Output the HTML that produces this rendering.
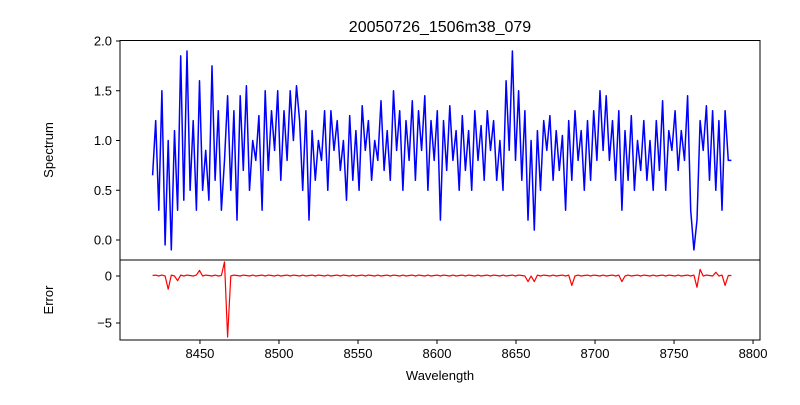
<!DOCTYPE html>
<html><head><meta charset="utf-8"><style>
body{margin:0;background:#fff;font-family:"Liberation Sans",sans-serif}
svg text{font-family:"Liberation Sans",sans-serif;fill:#000}
</style></head><body>
<svg id="c" width="800" height="400" xmlns="http://www.w3.org/2000/svg">
<rect width="800" height="400" fill="#fff"/>
<text x="440" y="32" font-size="16" text-anchor="middle">20050726_1506m38_079</text>
<text x="0" y="0" font-size="13" text-anchor="middle" transform="translate(53,150) rotate(-90)">Spectrum</text>
<text x="0" y="0" font-size="13" text-anchor="middle" transform="translate(53,300) rotate(-90)">Error</text>
<text x="440" y="380" font-size="13" text-anchor="middle">Wavelength</text>
<g id="g"></g>
</svg>
<script>
const spectrum = [0.65,1.2,0.3,1.5,-0.05,1.0,-0.1,1.1,0.3,1.85,
0.4,1.9,0.5,1.2,0.3,1.6,0.5,0.9,0.4,1.75,
0.6,1.3,0.3,0.8,1.45,0.5,1.3,0.2,1.45,0.7,
1.55,0.5,1.0,0.8,1.25,0.3,1.5,0.7,1.3,0.9,
1.5,0.6,1.3,0.8,1.5,1.0,1.55,1.2,0.5,1.3,
0.2,1.1,0.6,1.0,0.8,1.3,0.5,1.3,0.9,1.2,
0.7,1.0,0.4,1.25,0.6,1.1,0.5,1.35,0.9,1.2,
0.6,1.0,0.8,1.4,0.7,1.1,0.6,1.5,0.9,1.3,
0.5,1.2,0.8,1.4,0.6,1.3,0.9,1.45,0.5,1.2,
0.8,1.3,0.2,1.2,0.7,1.35,0.8,1.1,0.5,1.25,
0.7,1.1,0.5,1.3,0.8,1.15,0.6,1.3,0.9,1.2,
0.6,1.0,0.5,1.6,0.9,1.9,0.8,1.5,0.6,1.3,
0.2,1.0,0.1,1.1,0.5,1.2,0.9,1.25,0.6,1.1,
0.7,1.05,0.3,1.2,0.6,1.3,0.8,1.1,0.5,1.2,
0.6,1.3,0.8,1.5,0.9,1.45,0.8,1.2,0.6,1.3,
0.3,1.1,0.6,1.25,0.5,1.0,0.7,1.2,0.6,1.0,
0.5,1.2,0.7,1.4,0.5,1.1,0.9,1.3,0.7,1.1,
0.8,1.45,0.3,-0.1,0.2,1.2,0.9,1.35,0.6,1.3,
0.5,1.2,0.3,1.3,0.8,0.8];
const errors = [0.05,0.1,0.0,0.1,0.0,-1.4,0.1,0.0,-0.5,0.1,
0.0,0.1,0.05,0.0,0.1,0.6,0.0,0.1,0.05,0.0,
0.1,0.0,0.05,1.5,-6.5,0.0,0.1,0.05,0.0,0.1,
0.05,0.0,0.1,0.0,0.05,0.1,0.0,0.1,0.05,0.0,
0.1,0.0,0.05,0.1,0.0,0.1,0.05,0.0,0.1,0.0,
0.05,0.1,0.0,0.1,0.05,0.0,0.1,0.0,0.05,0.1,
0.0,0.1,0.05,0.0,0.1,0.0,0.05,0.1,0.0,0.1,
0.05,0.0,0.1,0.0,0.05,0.1,0.0,0.1,0.05,0.0,
0.1,0.0,0.05,0.1,0.0,0.1,0.05,0.0,0.1,0.0,
0.05,0.1,0.0,0.1,0.05,0.0,0.1,0.0,0.05,0.1,
0.0,0.1,0.05,0.0,0.1,0.0,0.05,0.1,0.0,0.1,
0.05,0.0,0.1,0.0,0.05,0.1,0.0,0.1,0.05,0.0,
-0.6,0.0,-0.6,0.1,0.0,0.1,0.05,0.0,0.1,0.0,
0.05,0.1,0.0,0.1,-1.0,0.0,0.1,0.0,0.05,0.1,
0.0,0.1,0.05,0.0,0.1,0.0,0.05,0.1,0.0,0.1,
-0.6,0.0,0.1,0.0,0.05,0.1,0.0,0.1,0.05,0.0,
0.1,0.0,0.05,0.1,0.0,0.1,0.05,0.0,0.1,0.0,
0.05,0.1,0.0,0.1,-1.2,0.7,0.0,0.1,0.05,0.0,
0.4,0.0,0.1,-1.0,0.05,0.05];
const wlStart = 8420, wlStep = 1.98;
const xTicks = [8450,8500,8550,8600,8650,8700,8750,8800];
const specTicks = [0.0,0.5,1.0,1.5,2.0];
const errTicks = [0,-5];

const NS="http://www.w3.org/2000/svg";
const g=document.getElementById('g');
const X0=120,X1=760;
const xs=w=>X0+(w-8399.4)*(640/405);
const ys=v=>240-v*99.5;
const ye=v=>276-v*9.4;
function mk(t,a){const e=document.createElementNS(NS,t);for(const k in a)e.setAttribute(k,a[k]);g.appendChild(e);return e;}
function pathFor(arr,yf){return arr.map((v,i)=>(i?'L':'M')+xs(wlStart+i*wlStep).toFixed(1)+','+yf(v).toFixed(1)).join('');}

let p=mk('path',{d:pathFor(spectrum,ys),fill:'none',stroke:'#0000ff','stroke-width':1.5,'stroke-linejoin':'round'});


p=mk('path',{d:pathFor(errors,ye),fill:'none',stroke:'#ff0000','stroke-width':1.2,'stroke-linejoin':'round'});



let r=mk('rect',{x:X0,y:40.5,width:640,height:219.5,fill:'none',stroke:'#000','stroke-width':1});


r=mk('rect',{x:X0,y:260,width:640,height:80,fill:'none',stroke:'#000','stroke-width':1});



specTicks.forEach(v=>{const y=ys(v);
 mk('line',{x1:X0-4,x2:X0,y1:y,y2:y,stroke:'#000'});
 const t=mk('text',{x:X0-8,y:y+4.5,'font-size':13,'text-anchor':'end'});t.textContent=v.toFixed(1);
 
 
});
errTicks.forEach(v=>{const y=ye(v);
 mk('line',{x1:X0-4,x2:X0,y1:y,y2:y,stroke:'#000'});
 const t=mk('text',{x:X0-8,y:y+4.5,'font-size':13,'text-anchor':'end'});t.textContent=v<0?'\u2212'+(-v):v;
 
 
});
xTicks.forEach(w=>{const x=xs(w);
 mk('line',{x1:x,x2:x,y1:340,y2:344,stroke:'#000'});
 const t=mk('text',{x:x,y:358,'font-size':13,'text-anchor':'middle'});t.textContent=w;
 
 
});
</script>
</body></html>
